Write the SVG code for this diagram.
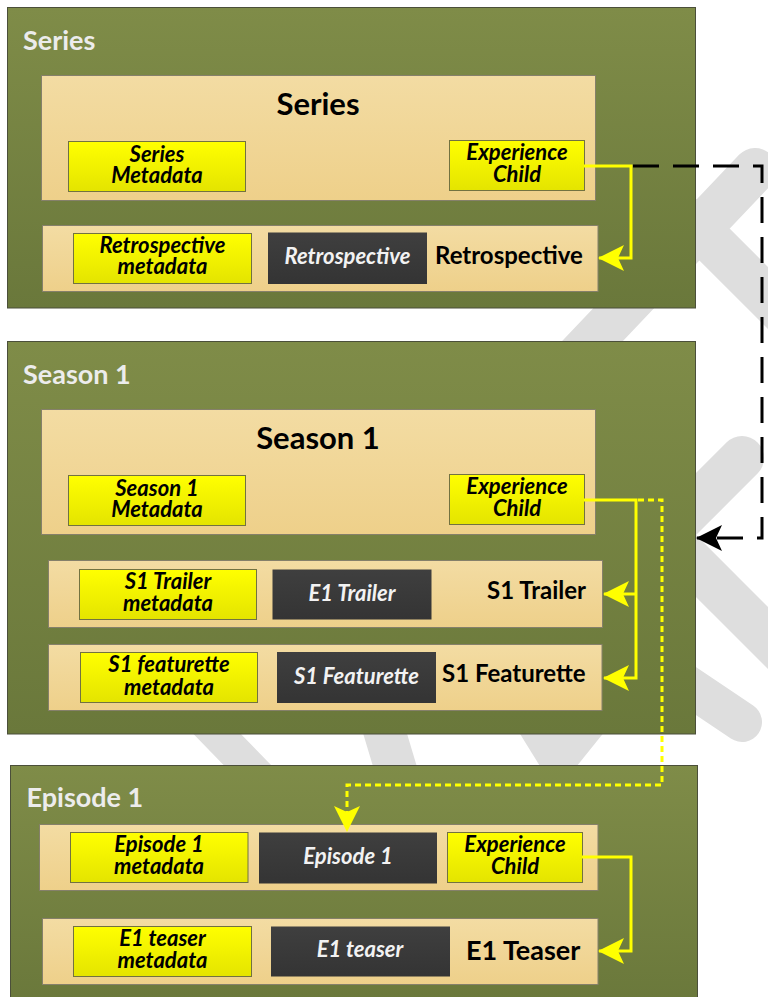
<svg xmlns="http://www.w3.org/2000/svg" width="768" height="997" viewBox="0 0 768 997">
  <defs>
    <linearGradient id="gGreen" x1="0" y1="0" x2="0" y2="1">
      <stop offset="0" stop-color="#7f8c48"/>
      <stop offset="1" stop-color="#6a783b"/>
    </linearGradient>
    <linearGradient id="gTan" x1="0" y1="0" x2="0" y2="1">
      <stop offset="0" stop-color="#f3dca3"/>
      <stop offset="1" stop-color="#eed08a"/>
    </linearGradient>
    <linearGradient id="gYellow" x1="0" y1="0" x2="0" y2="1">
      <stop offset="0" stop-color="#ffff00"/>
      <stop offset="1" stop-color="#e4e400"/>
    </linearGradient>
    <linearGradient id="gDark" x1="0" y1="0" x2="0" y2="1">
      <stop offset="0" stop-color="#3f3f3f"/>
      <stop offset="1" stop-color="#343434"/>
    </linearGradient>
    <marker id="arrowYellow" markerUnits="userSpaceOnUse" viewBox="0 0 26 26" markerWidth="26" markerHeight="26" refX="25" refY="13" orient="auto">
      <path d="M0,0 L26,13 L0,26 L6,13 z" fill="#ffff00"/>
    </marker>
    <marker id="arrowBlack" markerUnits="userSpaceOnUse" viewBox="0 0 26 26" markerWidth="26" markerHeight="26" refX="25" refY="13" orient="auto">
      <path d="M0,0 L26,13 L0,26 L6,13 z" fill="#000"/>
    </marker>
  </defs>
  <style>
    .outer { fill: url(#gGreen); stroke: #4b4f3a; stroke-width: 1; }
    .inner { fill: url(#gTan); stroke: #85806a; stroke-width: 1; }
    .meta { fill: url(#gYellow); stroke: #727240; stroke-width: 1; }
    .asset { fill: url(#gDark); }
    .grpLabel { font-family: Lato, "Liberation Sans", sans-serif; font-weight: bold; font-size: 27px; fill: #ececec; }
    .title { font-family: Lato, "Liberation Sans", sans-serif; font-weight: bold; font-size: 31px; fill: #000; text-anchor: middle; }
    .rowLabel { font-family: Lato, "Liberation Sans", sans-serif; font-weight: bold; font-size: 24px; fill: #000; }
    .metaText { font-family: Lato, "Liberation Sans", sans-serif; font-weight: bold; font-style: italic; font-size: 22px; fill: #000; text-anchor: middle; }
    .assetText { font-family: Lato, "Liberation Sans", sans-serif; font-weight: bold; font-style: italic; font-size: 22px; fill: #f2f2f2; text-anchor: middle; }
    .solid { fill: none; stroke: #ffff00; stroke-width: 3; marker-end: url(#arrowYellow); }
  </style>

  <rect width="768" height="997" fill="#ffffff"/>

  <!-- light grey background watermark strokes -->
  <g id="watermark" stroke="#dedede" stroke-width="44" stroke-linecap="round" fill="none">
    <line x1="755" y1="170" x2="565" y2="370"/>
    <line x1="690" y1="220" x2="820" y2="350"/>
    <line x1="742" y1="458" x2="660" y2="540"/>
    <line x1="650" y1="520" x2="830" y2="700"/>
    <line x1="620" y1="640" x2="742" y2="722" stroke-width="40"/>
    <line x1="150" y1="665" x2="330" y2="850" stroke-width="34"/>
    <line x1="375" y1="700" x2="405" y2="800" stroke-width="42"/>
    <polygon points="499,700 630,700 556,792" fill="#dedede" stroke="none"/>
  </g>

  <!-- Series container -->
  <g id="series">
    <rect class="outer" x="7.5" y="7.5" width="688" height="300.5"/>
    <text class="grpLabel" x="23" y="50">Series</text>
    <g id="series-main">
      <rect class="inner" x="41.5" y="75.5" width="554" height="125"/>
      <text class="title" x="318" y="115">Series</text>
    </g>
    <g id="series-metadata">
      <rect class="meta" x="68.5" y="141.5" width="177" height="50"/>
      <text class="metaText" x="157" y="161.5">Series<tspan x="157" y="182.5">Metadata</tspan></text>
    </g>
    <g id="series-experience-child">
      <rect class="meta" x="449.5" y="140.5" width="135" height="50"/>
      <text class="metaText" x="517" y="160">Experience<tspan x="517" y="181.5">Child</tspan></text>
    </g>
    <g id="retrospective">
      <rect class="inner" x="42.5" y="225.5" width="555.5" height="66"/>
      <rect class="meta" x="73.5" y="233.5" width="178" height="50"/>
      <text class="metaText" x="162.5" y="252.5">Retrospective<tspan x="162.5" y="274">metadata</tspan></text>
      <rect class="asset" x="268" y="232.5" width="159" height="51.5"/>
      <text class="assetText" x="347.5" y="264">Retrospective</text>
      <text class="rowLabel" x="435" y="263.5">Retrospective</text>
    </g>
  </g>

  <!-- Season container -->
  <g id="season1">
    <rect class="outer" x="7.5" y="341.5" width="688" height="392.5"/>
    <text class="grpLabel" x="23" y="383.5">Season 1</text>
    <g id="season1-main">
      <rect class="inner" x="41.5" y="409.5" width="554" height="125"/>
      <text class="title" x="318" y="449">Season 1</text>
    </g>
    <g id="season1-metadata">
      <rect class="meta" x="68.5" y="475.5" width="177" height="50"/>
      <text class="metaText" x="157" y="496">Season 1<tspan x="157" y="517">Metadata</tspan></text>
    </g>
    <g id="season1-experience-child">
      <rect class="meta" x="449.5" y="474.5" width="135" height="50"/>
      <text class="metaText" x="517" y="493.5">Experience<tspan x="517" y="515.5">Child</tspan></text>
    </g>
    <g id="s1-trailer">
      <rect class="inner" x="48.5" y="560.5" width="554" height="67"/>
      <rect class="meta" x="79.5" y="569.5" width="177" height="50"/>
      <text class="metaText" x="168" y="588.5">S1 Trailer<tspan x="168" y="611">metadata</tspan></text>
      <rect class="asset" x="272.5" y="569.5" width="159" height="50"/>
      <text class="assetText" x="352" y="600.5">E1 Trailer</text>
      <text class="rowLabel" x="487" y="598.5">S1 Trailer</text>
    </g>
    <g id="s1-featurette">
      <rect class="inner" x="48.5" y="644.5" width="553.5" height="66"/>
      <rect class="meta" x="80.5" y="652.5" width="177" height="50"/>
      <text class="metaText" x="169" y="672">S1 featurette<tspan x="169" y="694.5">metadata</tspan></text>
      <rect class="asset" x="277" y="652" width="159" height="51"/>
      <text class="assetText" x="356.5" y="684">S1 Featurette</text>
      <text class="rowLabel" x="442" y="682">S1 Featurette</text>
    </g>
  </g>

  <!-- Episode container -->
  <g id="episode1">
    <rect class="outer" x="10.5" y="765.5" width="687" height="240"/>
    <text class="grpLabel" x="26.5" y="807">Episode 1</text>
    <g id="episode1-main">
      <rect class="inner" x="39.5" y="824.5" width="558.5" height="66"/>
      <rect class="meta" x="70.5" y="832.5" width="177.5" height="50"/>
      <text class="metaText" x="159" y="852">Episode 1<tspan x="159" y="873.5">metadata</tspan></text>
      <rect class="asset" x="259" y="832.5" width="178" height="51"/>
      <text class="assetText" x="348" y="863.5">Episode 1</text>
    </g>
    <g id="episode1-experience-child">
      <rect class="meta" x="447.5" y="832.5" width="135" height="50"/>
      <text class="metaText" x="515" y="852">Experience<tspan x="515" y="873.5">Child</tspan></text>
    </g>
    <g id="e1-teaser">
      <rect class="inner" x="42.5" y="918.5" width="555.5" height="66"/>
      <rect class="meta" x="73.5" y="926.5" width="178" height="50"/>
      <text class="metaText" x="162.5" y="946">E1 teaser<tspan x="162.5" y="967.5">metadata</tspan></text>
      <rect class="asset" x="271" y="926.5" width="179" height="50"/>
      <text class="assetText" x="360" y="957">E1 teaser</text>
      <text class="rowLabel" x="466" y="960" style="font-size:27px">E1 Teaser</text>
    </g>
  </g>

  <!-- connectors -->
  <g id="connectors">
    <path class="solid" d="M584,166 H631 V258 H599"/>
    <path d="M633,166 H762 V538 H697" fill="none" stroke="#000" stroke-width="3" stroke-dasharray="26 14" marker-end="url(#arrowBlack)"/>
    <path class="solid" d="M584,500 H636 V678 H604"/>
    <path class="solid" d="M636,594 H604"/>
    <path d="M638,500 H662 V785 H347 V831" fill="none" stroke="#ffff00" stroke-width="3" stroke-dasharray="6 4" marker-end="url(#arrowYellow)"/>
    <path class="solid" d="M582,857 H631 V951 H599"/>
  </g>
</svg>
